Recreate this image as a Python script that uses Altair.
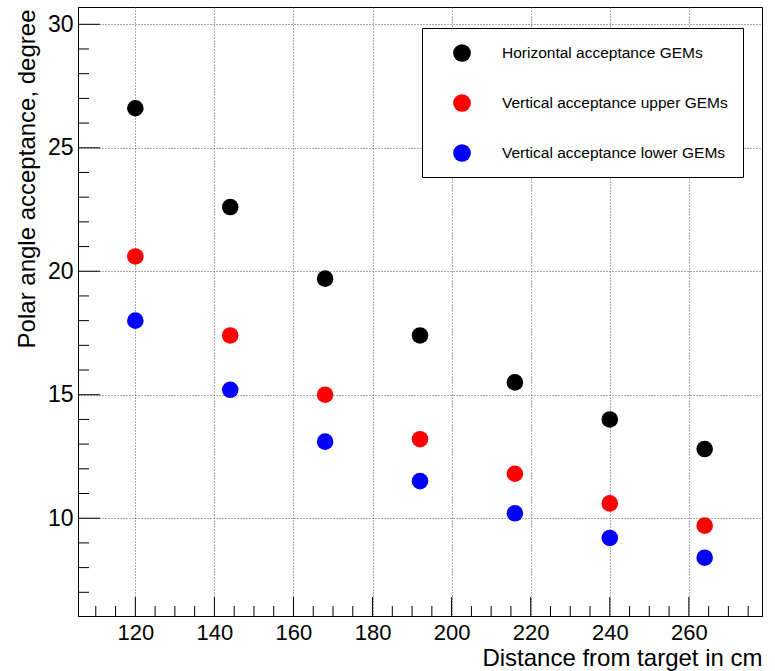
import altair as alt
import pandas as pd

# ---- data ----
distance = [120, 144, 168, 192, 216, 240, 264]
horizontal = [26.6, 22.6, 19.7, 17.4, 15.5, 14.0, 12.8]
vertical_upper = [20.6, 17.4, 15.0, 13.2, 11.8, 10.6, 9.7]
vertical_lower = [18.0, 15.2, 13.1, 11.5, 10.2, 9.2, 8.4]

series_names = ["Horizontal acceptance GEMs",
                "Vertical acceptance upper GEMs",
                "Vertical acceptance lower GEMs"]
series_colors = ["#000000", "#ff0000", "#0000ff"]

x_major = [120, 140, 160, 180, 200, 220, 240, 260]
x_minor = [110, 115, 125, 130, 135, 145, 150, 155, 165, 170, 175, 185, 190, 195,
           205, 210, 215, 225, 230, 235, 245, 250, 255, 265, 270, 275]
y_major = [10, 15, 20, 25, 30]
y_minor = [7, 8, 9, 11, 12, 13, 14, 16, 17, 18, 19, 21, 22, 23, 24, 26, 27, 28, 29]

X_DOMAIN = [105.5, 278.5]
Y_DOMAIN = [6.04, 30.70]
W, H = 684, 609
FONT = "Liberation Sans"

# ---- tables ----
rows = []
for name, vals in zip(series_names, [horizontal, vertical_upper, vertical_lower]):
    for d, v in zip(distance, vals):
        rows.append({"distance": d, "value": v, "series": name})
points_df = pd.DataFrame(rows)

px_x = W / (X_DOMAIN[1] - X_DOMAIN[0])
px_y = H / (Y_DOMAIN[1] - Y_DOMAIN[0])

def xticks(vals, length_px):
    return pd.DataFrame({"x": vals, "y": [Y_DOMAIN[0]] * len(vals),
                         "y2": [Y_DOMAIN[0] + length_px / px_y] * len(vals)})

def yticks(vals, length_px):
    return pd.DataFrame({"y": vals, "x": [X_DOMAIN[0]] * len(vals),
                         "x2": [X_DOMAIN[0] + length_px / px_x] * len(vals)})

xs = alt.Scale(domain=X_DOMAIN, nice=False, zero=False)
ys = alt.Scale(domain=Y_DOMAIN, nice=False, zero=False)

x_axis = alt.Axis(values=x_major, grid=True, ticks=False, labelFontSize=22,
                  labelPadding=6, labelColor="black", format="d",
                  title="Distance from target in cm", titleFontSize=24,
                  titleFontWeight="normal", titleColor="black",
                  titleAlign="right", titleAnchor="end", titleBaseline="alphabetic",
                  titleX=W, titleY=49)
y_axis = alt.Axis(values=y_major, grid=True, ticks=False, labelFontSize=23,
                  labelPadding=5, labelColor="black", format="d",
                  title="Polar angle acceptance, degree", titleFontSize=24,
                  titleFontWeight="normal", titleColor="black",
                  titleAngle=-90, titleAlign="right", titleAnchor="end",
                  titleBaseline="alphabetic", titleX=-44, titleY=2)

points = alt.Chart(points_df).mark_circle(size=275, opacity=1).encode(
    x=alt.X("distance:Q", scale=xs, axis=x_axis),
    y=alt.Y("value:Q", scale=ys, axis=y_axis),
    color=alt.Color("series:N",
                    scale=alt.Scale(domain=series_names, range=series_colors),
                    sort=series_names,
                    legend=alt.Legend(title=None, orient="none", legendX=344, legendY=21,
                                      symbolType="circle", symbolSize=314,
                                      symbolOffset=15, labelOffset=30,
                                      labelFontSize=15.5, labelColor="black",
                                      rowPadding=31, padding=15,
                                      strokeColor="black", fillColor="white",
                                      labelLimit=400)),
)

def xrule(df):
    return alt.Chart(df).mark_rule(color="black", strokeWidth=1).encode(
        x=alt.X("x:Q", scale=xs), y=alt.Y("y:Q", scale=ys), y2="y2:Q")

def yrule(df):
    return alt.Chart(df).mark_rule(color="black", strokeWidth=1).encode(
        y=alt.Y("y:Q", scale=ys), x=alt.X("x:Q", scale=xs), x2="x2:Q")

chart = alt.layer(
    xrule(xticks(x_major, 19)), xrule(xticks(x_minor, 10)),
    yrule(yticks(y_major, 22)), yrule(yticks(y_minor, 11)),
    points,
).properties(
    width=W, height=H,
    autosize=alt.AutoSizeParams(type="none"),
    padding={"left": 78, "top": 7, "right": 13, "bottom": 55},
).configure(
    font=FONT,
).configure_axis(
    domainColor="black", domainWidth=1,
    gridColor="#555555", gridDash=[1, 2], gridWidth=1,
).configure_view(
    stroke="black", strokeWidth=1,
)

chart.save("out.html", embed_options={"renderer": "svg", "actions": False})
